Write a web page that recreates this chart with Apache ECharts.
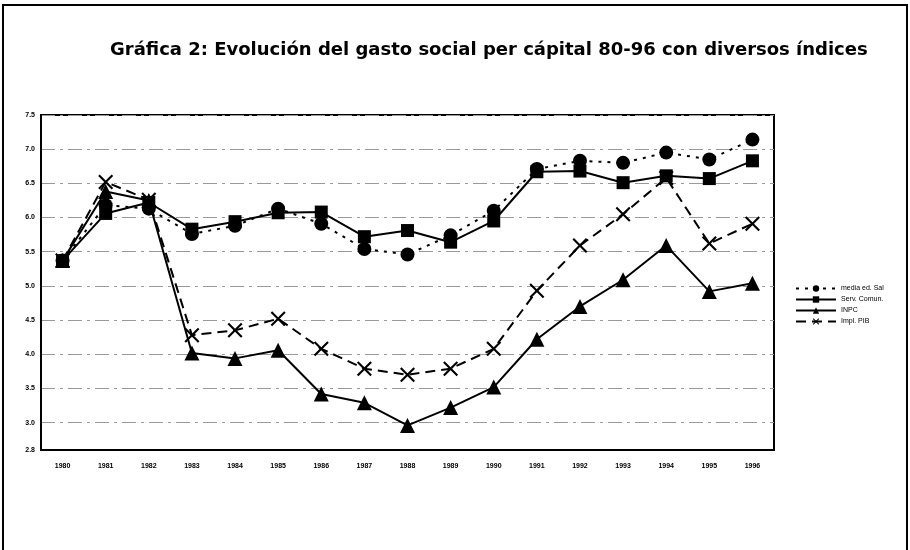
<!DOCTYPE html>
<html>
<head lang="es">
    <meta charset="UTF-8">
    <title>Gráfica 2</title>
    <style>
        html, body { margin: 0; padding: 0; background: #fff; }
        #main { width: 910px; height: 550px; }
    </style>
</head>
<body>
<div id="main"></div>
<script src="https://cdn.jsdelivr.net/npm/echarts@6/dist/echarts.min.js"></script>
<script>
    // años 1980-1996
    var years = ['1980', '1981', '1982', '1983', '1984', '1985', '1986', '1987', '1988',
        '1989', '1990', '1991', '1992', '1993', '1994', '1995', '1996'];

    // valores
    var mediaSal = [5.37, 6.18, 6.13, 5.76, 5.88, 6.13, 5.91, 5.54, 5.46, 5.74, 6.10, 6.71, 6.83, 6.80, 6.95, 6.85, 7.14];
    var servComun = [5.37, 6.06, 6.22, 5.83, 5.94, 6.07, 6.08, 5.72, 5.81, 5.64, 5.95, 6.67, 6.68, 6.51, 6.61, 6.57, 6.83];
    var inpc = [5.37, 6.38, 6.25, 4.02, 3.94, 4.06, 3.42, 3.29, 2.96, 3.22, 3.52, 4.22, 4.70, 5.09, 5.59, 4.92, 5.04];
    var implPib = [5.37, 6.52, 6.26, 4.28, 4.35, 4.52, 4.08, 3.79, 3.70, 3.79, 4.08, 4.93, 5.59, 6.05, 6.58, 5.62, 5.91];

    // marcas del eje vertical (la de abajo esta rotulada 2.8 en el original)
    var yTickValues = [2.6, 3.0, 3.5, 4.0, 4.5, 5.0, 5.5, 6.0, 6.5, 7.0, 7.5];
    var yTickLabels = ['2.8', '3.0', '3.5', '4.0', '4.5', '5.0', '5.5', '6.0', '6.5', '7.0', '7.5'];

    var crossPath = 'path://M0,1L1,0L5,4L9,0L10,1L6,5L10,9L9,10L5,6L1,10L0,9L4,5Z';

    var myChart = echarts.init(document.getElementById('main'));

    function serie(name, data, symbol, size, lineType) {
        return {
            name: name,
            type: 'line',
            data: data,
            symbol: symbol,
            symbolSize: size,
            showAllSymbol: true,
            lineStyle: {color: '#000', width: 2, type: lineType},
            itemStyle: {color: '#000'},
            emphasis: {disabled: true}
        };
    }

    var option = {
        animation: false,
        backgroundColor: '#fff',
        title: {
            text: 'Gráfica 2: Evolución del gasto social per cápital 80-96 con diversos índices',
            left: 105,
            top: 36,
            textStyle: {fontFamily: 'DejaVu Sans', fontWeight: 'bold', fontSize: 18, color: '#000'}
        },
        graphic: [{
            type: 'rect',
            shape: {x: 3, y: 5, width: 904, height: 560},
            style: {fill: 'none', stroke: '#000', lineWidth: 2},
            silent: true
        }],
        legend: {
            orient: 'vertical',
            left: 790,
            top: 280,
            itemWidth: 40,
            itemHeight: 8,
            itemGap: 4,
            textStyle: {fontSize: 7, fontFamily: 'Liberation Sans', color: '#000'},
            data: ['media ed. Sal', 'Serv. Comun.', 'INPC', 'Impl. PIB']
        },
        grid: {
            left: 41, top: 115, width: 733, height: 335,
            show: true, borderColor: '#000', borderWidth: 2,
            containLabel: false
        },
        xAxis: {
            type: 'category',
            data: years,
            boundaryGap: true,
            axisLine: {lineStyle: {color: '#000', width: 2}},
            axisTick: {show: false},
            axisLabel: {fontSize: 7, fontWeight: 'bold', fontFamily: 'Liberation Sans', color: '#000', margin: 13}
        },
        yAxis: {
            type: 'value',
            min: 2.6,
            max: 7.5,
            axisLine: {show: true, lineStyle: {color: '#000', width: 2}},
            axisTick: {show: false, customValues: yTickValues},
            axisLabel: {
                fontSize: 7, fontWeight: 'bold', fontFamily: 'Liberation Sans', color: '#000', margin: 6,
                customValues: yTickValues,
                formatter: function (v) {
                    var i = yTickValues.indexOf(v);
                    return i >= 0 ? yTickLabels[i] : '';
                }
            },
            splitLine: {show: true, lineStyle: {color: '#999', width: 1, type: [14, 5, 3, 5]}}
        },
        series: [
            serie('media ed. Sal', mediaSal, 'circle', 14, [3, 6]),
            serie('Serv. Comun.', servComun, 'rect', 13, 'solid'),
            serie('INPC', inpc, 'triangle', 15, 'solid'),
            serie('Impl. PIB', implPib, crossPath, 15, [10, 6])
        ]
    };

    myChart.setOption(option);
</script>
</body>
</html>
